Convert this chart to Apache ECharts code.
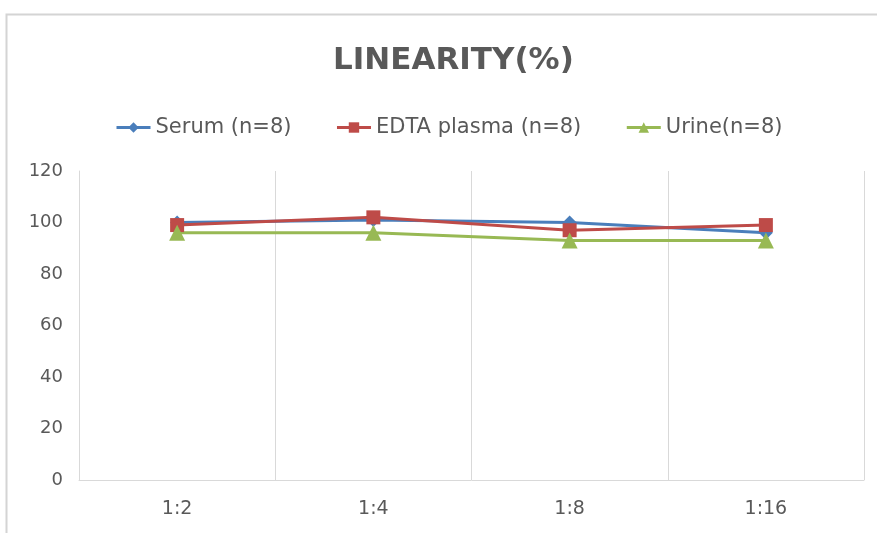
<!DOCTYPE html>
<html lang="en">
<head>
  <meta charset="UTF-8">
  <script src="https://cdn.jsdelivr.net/npm/echarts@6/dist/echarts.min.js"></script>
  <title>Linearity</title>
</head>
<style>
  html, body { margin: 0; padding: 0; background: #fff; }
  #chart { width: 877px; height: 533px; }
</style>
<body>
  <div id="chart"></div>
</body>
<script>
  // dilution ratios on the x axis
  var dilutions = ['1:2', '1:4', '1:8', '1:16'];
  var serum = [100, 101, 100, 96];
  var edta = [99, 102, 97, 99];
  var urine = [96, 96, 93, 93];
  var seriesNames = ['Serum (n=8)', 'EDTA plasma (n=8)', 'Urine(n=8)'];

  var txt = '#595959';
  var myChart = echarts.init(document.getElementById('chart'));

  function mkLine(name, data, color, symbol, size) {
    return {
      name: name,
      type: 'line',
      data: data,
      symbol: symbol,
      symbolSize: size,
      lineStyle: { color: color, width: 3 },
      itemStyle: { color: color },
      z: 3
    };
  }

  myChart.setOption({
    animation: false,
    title: {
      text: 'LINEARITY(%)',
      left: 328,
      top: 40,
      textStyle: { fontFamily: 'DejaVu Sans', fontSize: 31, fontWeight: 'bold', color: txt }
    },
    legend: {
      top: 112,
      left: 110,
      itemWidth: 34,
      itemHeight: 13,
      itemGap: 44,
      lineStyle: { width: 3 },
      textStyle: { fontFamily: 'DejaVu Sans', fontSize: 21, color: txt },
      data: seriesNames
    },
    grid: { left: 79, right: 13, top: 171, bottom: 53 },
    xAxis: {
      type: 'category',
      data: dilutions,
      boundaryGap: true,
      axisLine: { lineStyle: { color: '#d9d9d9', width: 1 } },
      axisTick: { show: false },
      splitLine: { show: true, lineStyle: { color: '#d9d9d9' } },
      axisLabel: { fontFamily: 'DejaVu Sans', fontSize: 19, color: txt, margin: 20 }
    },
    yAxis: {
      type: 'value',
      min: 0,
      max: 120,
      interval: 20,
      axisLine: { show: true, lineStyle: { color: '#d9d9d9' } },
      axisTick: { show: false },
      splitLine: { show: false },
      axisLabel: { fontFamily: 'DejaVu Sans', fontSize: 18, color: txt, margin: 16 }
    },
    graphic: [{
      type: 'rect',
      shape: { x: 6.5, y: 14.5, width: 880, height: 530 },
      style: { fill: null, stroke: '#d4d4d4', lineWidth: 2 },
      silent: true
    }, {
      type: 'line',
      shape: { x1: 864.5, y1: 171, x2: 864.5, y2: 480 },
      style: { stroke: '#d9d9d9', lineWidth: 1 },
      silent: true
    }],
    series: [
      mkLine(seriesNames[0], serum, '#4a7ebb', 'diamond', 14),
      mkLine(seriesNames[1], edta, '#be4b48', 'rect', 14),
      mkLine(seriesNames[2], urine, '#98b954', 'triangle', 16)
    ]
  });
</script>
</html>
